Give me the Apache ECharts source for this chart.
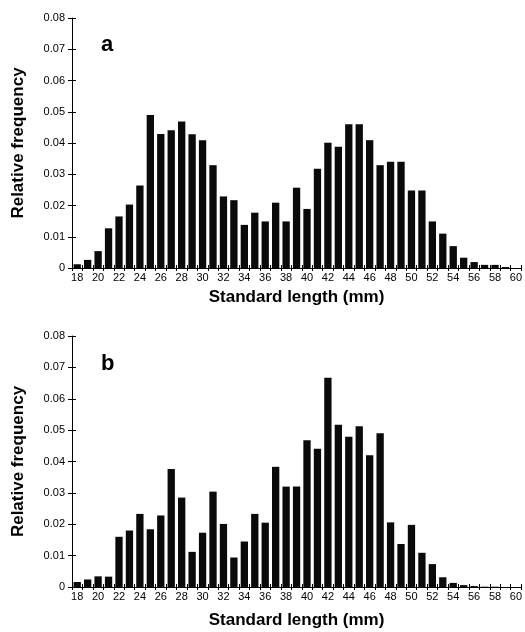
<!DOCTYPE html>
<html>
<head>
<meta charset="utf-8">
<script src="https://cdn.jsdelivr.net/npm/echarts@6/dist/echarts.min.js"></script>
<style>
html,body{margin:0;padding:0;background:#fff;}
#chart{width:525px;height:632px;}
</style>
</head>
<body>
<div id="chart"></div>
<script>
const lengths = [18,19,20,21,22,23,24,25,26,27,28,29,30,31,32,33,34,35,36,37,38,39,40,41,42,43,44,45,46,47,48,49,50,51,52,53,54,55,56,57,58,59,60];
const freqA = [0.0012,0.0026,0.0054,0.0127,0.0165,0.0203,0.0264,0.049,0.0429,0.0441,0.0469,0.0428,0.0409,0.0329,0.0229,0.0217,0.0138,0.0177,0.0149,0.0209,0.0149,0.0257,0.0189,0.0318,0.0401,0.0388,0.046,0.046,0.0409,0.0329,0.034,0.034,0.0248,0.0248,0.0149,0.011,0.007,0.0033,0.0019,0.001,0.001,0.0003,0];
const freqB = [0.0016,0.0024,0.0034,0.0033,0.016,0.018,0.0233,0.0184,0.0228,0.0376,0.0285,0.0112,0.0173,0.0304,0.0201,0.0094,0.0145,0.0233,0.0205,0.0383,0.032,0.032,0.0468,0.0441,0.0667,0.0517,0.0479,0.0512,0.042,0.049,0.0206,0.0137,0.0198,0.0109,0.0073,0.0031,0.0013,0.0006,0.0003,0.0001,0.0001,0,0];
const panelLabels = ['a','b'];
const xName = 'Standard length (mm)';
const yName = 'Relative frequency';
const yMin = 0, yMax = 0.08, yStep = 0.01;

const FONT = 'Liberation Sans, Arial, Helvetica, sans-serif';
const chart = echarts.init(document.getElementById('chart'));

const grids = [
  {left:72, top:18, width:451, height:250},
  {left:72, top:336, width:451, height:251}
];
const nameGaps = [21, 25];

const xAxes = [], yAxes = [], series = [];
[freqA, freqB].forEach((d, i) => {
  xAxes.push({
    type:'category', gridIndex:i, position:'bottom', data:lengths, boundaryGap:true,
    name:xName, nameLocation:'middle', nameGap:nameGaps[i],
    nameTextStyle:{fontFamily:FONT, fontWeight:'bold', fontSize:17, color:'#000'},
    axisLine:{lineStyle:{color:'#000', width:1}},
    axisTick:{show:true, interval:0, length:3, lineStyle:{color:'#000'}},
    axisLabel:{interval:1, fontFamily:FONT, fontSize:11, color:'#000', margin:4}
  });
  xAxes.push({
    type:'category', gridIndex:i, position:'bottom', data:lengths, boundaryGap:true,
    axisLine:{show:false},
    axisTick:{show:true, inside:true, interval:0, length:3, lineStyle:{color:'#000'}},
    axisLabel:{show:false}
  });
  yAxes.push({
    type:'value', gridIndex:i, min:yMin, max:yMax, interval:yStep,
    name:yName, nameLocation:'middle', nameGap:45,
    nameTextStyle:{fontFamily:FONT, fontWeight:'bold', fontSize:17, color:'#000'},
    axisLine:{show:true, lineStyle:{color:'#000', width:1}},
    axisTick:{show:true, length:4, lineStyle:{color:'#000'}},
    splitLine:{show:false},
    axisLabel:{fontFamily:FONT, fontSize:11, color:'#000', margin:7,
      formatter:v => v === 0 ? '0' : v.toFixed(2)}
  });
  yAxes.push({
    type:'value', gridIndex:i, min:yMin, max:yMax, interval:yStep, position:'left',
    axisLine:{show:false},
    axisTick:{show:true, inside:true, length:4, lineStyle:{color:'#000'}},
    splitLine:{show:false}, axisLabel:{show:false}
  });
  series.push({
    type:'bar', xAxisIndex:i*2, yAxisIndex:i*2, data:d, barWidth:'70%',
    itemStyle:{color:'#0a0a0a'}, silent:true
  });
});

chart.setOption({
  animation:false,
  backgroundColor:'#fff',
  grid:grids,
  xAxis:xAxes,
  yAxis:yAxes,
  series:series,
  graphic:[
    {type:'text', left:101, top:34, style:{text:panelLabels[0], font:'bold 22px ' + FONT, fill:'#000'}},
    {type:'text', left:101, top:353, style:{text:panelLabels[1], font:'bold 22px ' + FONT, fill:'#000'}}
  ]
});
</script>
</body>
</html>
